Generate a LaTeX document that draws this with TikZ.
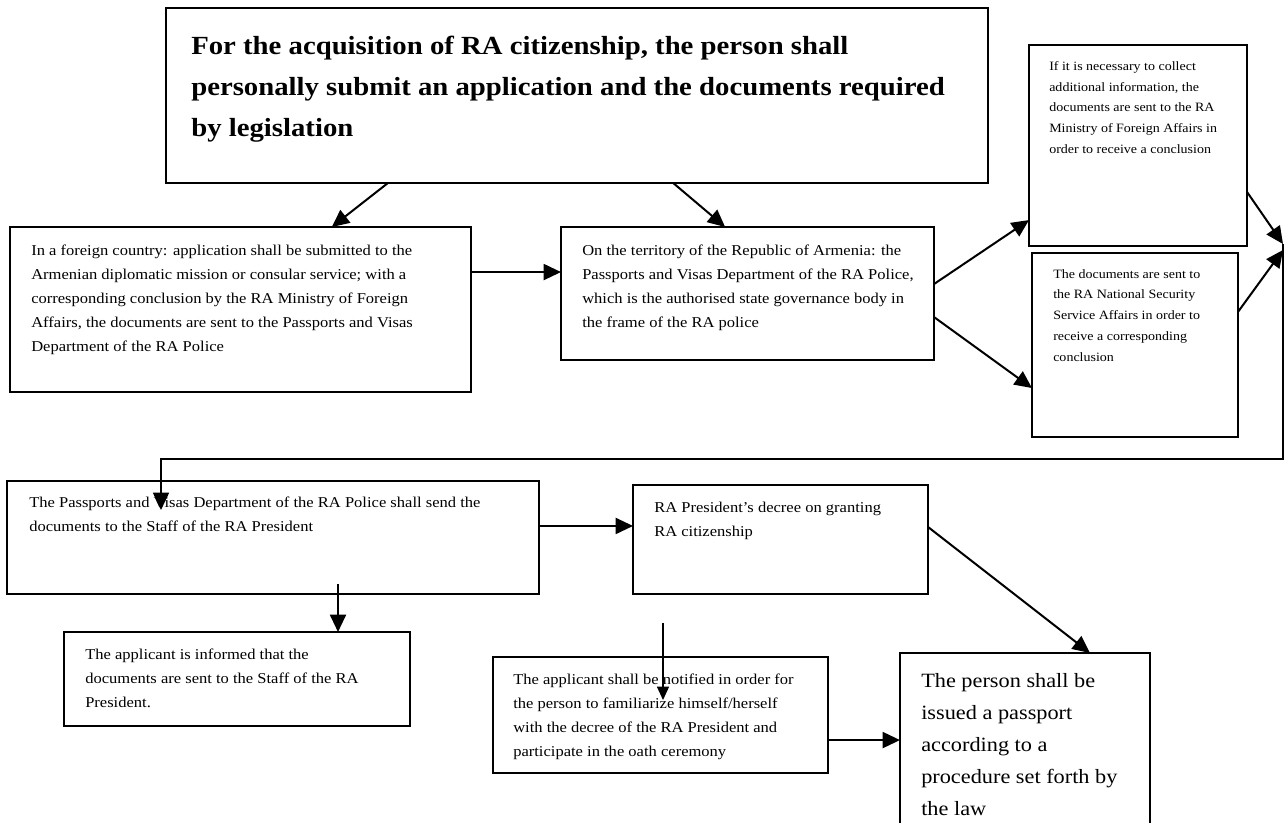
\documentclass[tikz,border=0pt]{standalone}
\usepackage{fontspec}
\setmainfont{Liberation Serif}[FakeStretch=1.1]
\usetikzlibrary{arrows.meta,calc,fit}
\tikzset{
  box/.style={draw, line width=1.2pt, inner sep=0pt, outer sep=0pt},
  txt/.style={anchor=north west, inner sep=0pt, align=left, font=\fontsize{11.27}{18}\selectfont},
  smalltxt/.style={txt, font=\fontsize{9.55}{15.6}\selectfont},
  bigtxt/.style={txt, font=\fontsize{15.2}{24}\selectfont},
  titletxt/.style={txt, font=\fontsize{19.6}{30.75}\selectfont\bfseries},
  conn/.style={line width=1.5pt, -{Triangle[length=13pt,width=12pt]}},
  thinconn/.style={line width=1pt, -{Triangle[length=10pt,width=9pt]}},
  feedline/.style={line width=1.3pt, -{Triangle[length=13pt,width=12pt]}}
}
\begin{document}
\begin{tikzpicture}[x=0.75pt,y=-0.75pt]
\useasboundingbox (0,0) rectangle (1285,823);
\clip (0,0) rectangle (1285,823);
\fill[white] (0,0) rectangle (1285,823);

% boxes
\node[box, fit={(166,8) (988,183)}] (T) {};
\node[box, fit={(10,227) (471,392)}] (A) {};
\node[box, fit={(561,227) (934,360)}] (B) {};
\node[box, fit={(1029,45) (1247,246)}] (C) {};
\node[box, fit={(1032,253) (1238,437)}] (D) {};
\node[box, fit={(7,481) (539,594)}] (E) {};
\node[box, fit={(633,485) (928,594)}] (F) {};
\node[box, fit={(64,632) (410,726)}] (G) {};
\node[box, fit={(493,657) (828,773)}] (H) {};
\node[box, fit={(900,653) (1150,850)}] (I) {};

% texts
\node[titletxt] (Tt) at (191,36) {For the acquisition of RA citizenship, the person shall\\personally submit an application and the documents required\\by legislation};
\node[txt] (At) at (31,245) {In a foreign country: application shall be submitted to the\\Armenian diplomatic mission or consular service; with a\\corresponding conclusion by the RA Ministry of Foreign\\Affairs, the documents are sent to the Passports and Visas\\Department of the RA Police};
\node[txt] (Bt) at (582,245) {On the territory of the Republic of Armenia: the\\Passports and Visas Department of the RA Police,\\which is the authorised state governance body in\\the frame of the RA police};
\node[smalltxt] (Ct) at (1049,61) {If it is necessary to collect\\additional information, the\\documents are sent to the RA\\Ministry of Foreign Affairs in\\order to receive a conclusion};
\node[smalltxt] (Dt) at (1053,269) {The documents are sent to\\the RA National Security\\Service Affairs in order to\\receive a corresponding\\conclusion};
\node[txt] (Et) at (29,497) {The Passports and Visas Department of the RA Police shall send the\\documents to the Staff of the RA President};
\node[txt] (Ft) at (654,502) {RA President’s decree on granting\\RA citizenship};
\node[txt] (Gt) at (85,649) {The applicant is informed that the\\documents are sent to the Staff of the RA\\President.};
\node[txt] (Ht) at (513,674) {The applicant shall be notified in order for\\the person to familiarize himself/herself\\with the decree of the RA President and\\participate in the oath ceremony};
\node[bigtxt] (It) at (921,673) {The person shall be\\issued a passport\\according to a\\procedure set forth by\\the law};

% connectors
\draw[conn] ($(T.south west)!0.270!(T.south east)$) -- ($(A.north west)!0.698!(A.north east)$);
\draw[conn] ($(T.south west)!0.617!(T.south east)$) -- ($(B.north west)!0.44!(B.north east)$);
\coordinate (ab) at ($(A.north east)!0.273!(A.south east)$);
\draw[conn] (ab) -- (B.west |- ab);
\draw[conn] ($(B.north east)!0.429!(B.south east)$) -- ($(C.north west)!0.871!(C.south west)$);
\draw[conn] ($(B.north east)!0.677!(B.south east)$) -- ($(D.north west)!0.734!(D.south west)$);
\coordinate (R1) at (1283,244);
\coordinate (R2) at (1283,250);
\draw[conn] ($(C.north east)!0.731!(C.south east)$) -- (R1);
\draw[conn] ($(D.north east)!0.32!(D.south east)$) -- (R2);
\coordinate (c1) at (1283,459);
\coordinate (c2) at (161,459);
\coordinate (Etip) at (161,510);
\draw[feedline] (R1) -- (c1) -- (c2) -- (Etip);
\coordinate (ef) at ($(E.north east)!0.398!(E.south east)$);
\draw[conn] (ef) -- (F.west |- ef);
\coordinate (eg) at (338,584);
\draw[conn] (eg) -- (G.north -| eg);
\draw[conn] ($(F.north east)!0.385!(F.south east)$) -- ($(I.north west)!0.76!(I.north east)$);
\coordinate (hs) at (663,623);
\coordinate (ht) at (663,700);
\draw[thinconn] (hs) -- (ht);
\coordinate (hi) at ($(H.north east)!0.716!(H.south east)$);
\draw[conn] (hi) -- (I.west |- hi);
\end{tikzpicture}
\end{document}
